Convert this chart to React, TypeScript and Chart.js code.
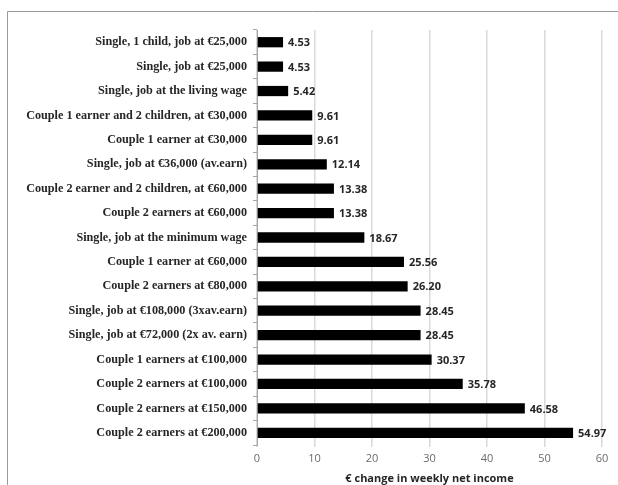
import React, { useEffect, useRef } from "react";
import { Chart, registerables } from "chart.js";

Chart.register(...registerables);

const categories: string[] = [
  "Single, 1 child, job at €25,000",
  "Single, job at €25,000",
  "Single, job at the living wage",
  "Couple 1 earner and 2 children, at €30,000",
  "Couple 1 earner at €30,000",
  "Single, job at €36,000 (av.earn)",
  "Couple 2 earner and 2 children, at €60,000",
  "Couple 2 earners at €60,000",
  "Single, job at the minimum wage",
  "Couple 1 earner at €60,000",
  "Couple 2 earners at €80,000",
  "Single, job at €108,000 (3xav.earn)",
  "Single, job at €72,000 (2x av. earn)",
  "Couple 1 earners at €100,000",
  "Couple 2 earners at €100,000",
  "Couple 2 earners at €150,000",
  "Couple 2 earners at €200,000",
];

const values: number[] = [
  4.53, 4.53, 5.42, 9.61, 9.61, 12.14, 13.38, 13.38, 18.67, 25.56, 26.2,
  28.45, 28.45, 30.37, 35.78, 46.58, 54.97,
];

const xTitle = "€ change in weekly net income";
const xMin = 0;
const xMax = 60;
const xStep = 10;

const valueLabels = {
  id: "valueLabels",
  afterDatasetsDraw(chart: any) {
    const ctx = chart.ctx;
    const meta = chart.getDatasetMeta(0);
    ctx.save();
    ctx.font = "bold 11px 'Open Sans'";
    ctx.fillStyle = "#262626";
    ctx.textAlign = "left";
    ctx.textBaseline = "middle";
    meta.data.forEach((bar: any, i: number) => {
      const v = chart.data.datasets[0].data[i] as number;
      ctx.fillText(v.toFixed(2), bar.x + 5, bar.y + 1);
    });
    ctx.restore();
  },
};

const frame = {
  id: "frame",
  beforeDraw(chart: any) {
    const ctx = chart.ctx;
    ctx.save();
    ctx.fillStyle = "#ffffff";
    ctx.fillRect(0, 0, chart.width, chart.height);
    ctx.strokeStyle = "#9a9a9a";
    ctx.lineWidth = 1;
    ctx.beginPath();
    ctx.moveTo(7.5, chart.height);
    ctx.lineTo(7.5, 11.5);
    ctx.lineTo(chart.width, 11.5);
    ctx.stroke();
    ctx.restore();
  },
};

export default function App() {
  const ref = useRef<HTMLCanvasElement | null>(null);
  useEffect(() => {
    if (!ref.current) return;
    const chart = new Chart(ref.current, {
      type: "bar",
      data: {
        labels: categories,
        datasets: [
          {
            data: values,
            backgroundColor: "#000000",
            borderWidth: 0,
            barPercentage: 0.42,
            categoryPercentage: 1,
          },
        ],
      },
      plugins: [frame, valueLabels],
      options: {
        indexAxis: "y",
        animation: false,
        responsive: false,
        maintainAspectRatio: false,
        layout: { padding: { top: 30, right: 16, left: 0, bottom: 0 } },
        plugins: {
          legend: { display: false },
          tooltip: { enabled: false },
        },
        scales: {
          x: {
            min: xMin,
            max: xMax,
            ticks: {
              stepSize: xStep,
              color: "#6b6b6b",
              font: { family: "'Open Sans'", size: 11 },
              padding: 5,
            },
            grid: {
              color: "#d9d9d9",
              lineWidth: 1.5,
              drawTicks: true,
              tickLength: 2,
            },
            border: { display: false },
            title: {
              display: true,
              text: xTitle,
              color: "#262626",
              font: { family: "'Open Sans'", size: 11, weight: "bold" },
              padding: { top: 0, bottom: 0 },
            },
            afterFit: (scale: any) => {
              scale.height = 40;
            },
          },
          y: {
            ticks: {
              color: "#262626",
              font: { family: "'Liberation Serif'", size: 12.2, weight: "bold" },
              padding: 6,
              autoSkip: false,
            },
            grid: {
              display: true,
              drawOnChartArea: false,
              drawTicks: true,
              tickLength: 4,
              color: "#a6a6a6",
              offset: true,
            },
            border: { display: true, color: "#a6a6a6", width: 1 },
            afterFit: (scale: any) => {
              scale.width = 257;
            },
          },
        },
      },
    });
    return () => chart.destroy();
  }, []);
  return (
    <div style={{ position: "fixed", left: 0, top: 0, width: 618, height: 485, background: "#fff", overflow: "hidden" }}>
      <canvas ref={ref} width={618} height={485} style={{ display: "block" }} />
    </div>
  );
}
